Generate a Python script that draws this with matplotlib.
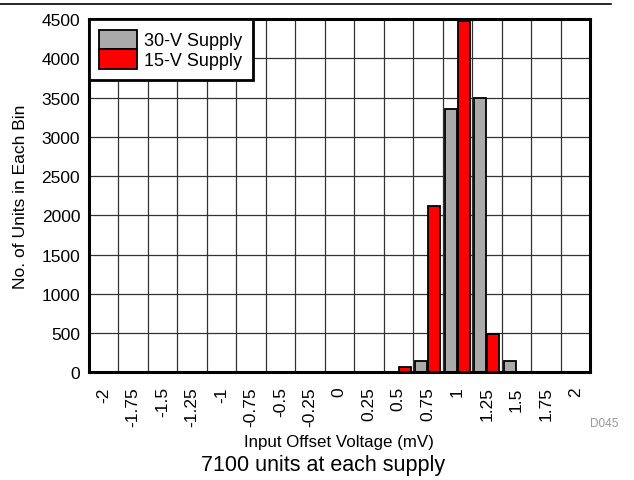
import matplotlib.pyplot as plt
import numpy as np
from matplotlib.lines import Line2D

plt.rcParams['font.family'] = ['Liberation Sans', 'DejaVu Sans']

bins = ['-2', '-1.75', '-1.5', '-1.25', '-1', '-0.75', '-0.5', '-0.25', '0',
        '0.25', '0.5', '0.75', '1', '1.25', '1.5', '1.75', '2']
units_30v = [0, 0, 0, 0, 0, 0, 0, 0, 0, 0, 0, 148, 3350, 3490, 148, 0, 0]
units_15v = [0, 0, 0, 0, 0, 0, 0, 0, 0, 0, 65, 2120, 4470, 485, 0, 0, 0]

fig = plt.figure(figsize=(6.34, 4.81), dpi=100)
ax = fig.add_axes([0.1396, 0.2239, 0.7910, 0.7345])

x = np.arange(len(bins))
ax.bar(x - 0.22, units_30v, width=0.42, color='#aaaaaa', edgecolor='black',
       linewidth=1.3, label='30-V Supply', zorder=3)
ax.bar(x + 0.22, units_15v, width=0.40, color='#ff0000', edgecolor='black',
       linewidth=1.3, label='15-V Supply', zorder=3)

ax.set_xlim(-0.5, len(bins) - 0.5)
ax.set_ylim(0, 4500)
ax.set_yticks(np.arange(0, 4501, 500))
ax.set_xticks(x)
ax.set_xticklabels(bins, rotation=90)
ax.set_xticks(x[:-1] + 0.5, minor=True)
ax.tick_params(axis='both', which='both', length=0, labelsize=12.5)
ax.tick_params(axis='x', pad=10)
ax.tick_params(axis='y', pad=6)
ax.grid(which='minor', axis='x', color='#333333', linewidth=0.9, zorder=0)
ax.grid(which='major', axis='y', color='#333333', linewidth=0.9, zorder=0)
for s in ax.spines.values():
    s.set_linewidth(2.2)
    s.set_zorder(5)

ax.set_ylabel('No. of Units in Each Bin', fontsize=12.5, labelpad=10)
ax.set_xlabel('Input Offset Voltage (mV)', fontsize=12.2, labelpad=6)

leg = ax.legend(loc='upper left', fontsize=13, borderaxespad=0, fancybox=False,
                framealpha=1, edgecolor='black', handlelength=2.1,
                handleheight=1.25, labelspacing=0, handletextpad=0.4,
                borderpad=0.6)
leg.get_frame().set_linewidth(2)
leg.set_zorder(6)

fig.text(0.975, 0.112, 'D045', fontsize=8.5, color='#999999', ha='right')
fig.text(0.51, 0.02, '7100 units at each supply', fontsize=15.5, ha='center')
fig.add_artist(Line2D([0, 0.963], [0.99, 0.99], color='black', linewidth=1.2))

fig.savefig('out.png', dpi=100)
